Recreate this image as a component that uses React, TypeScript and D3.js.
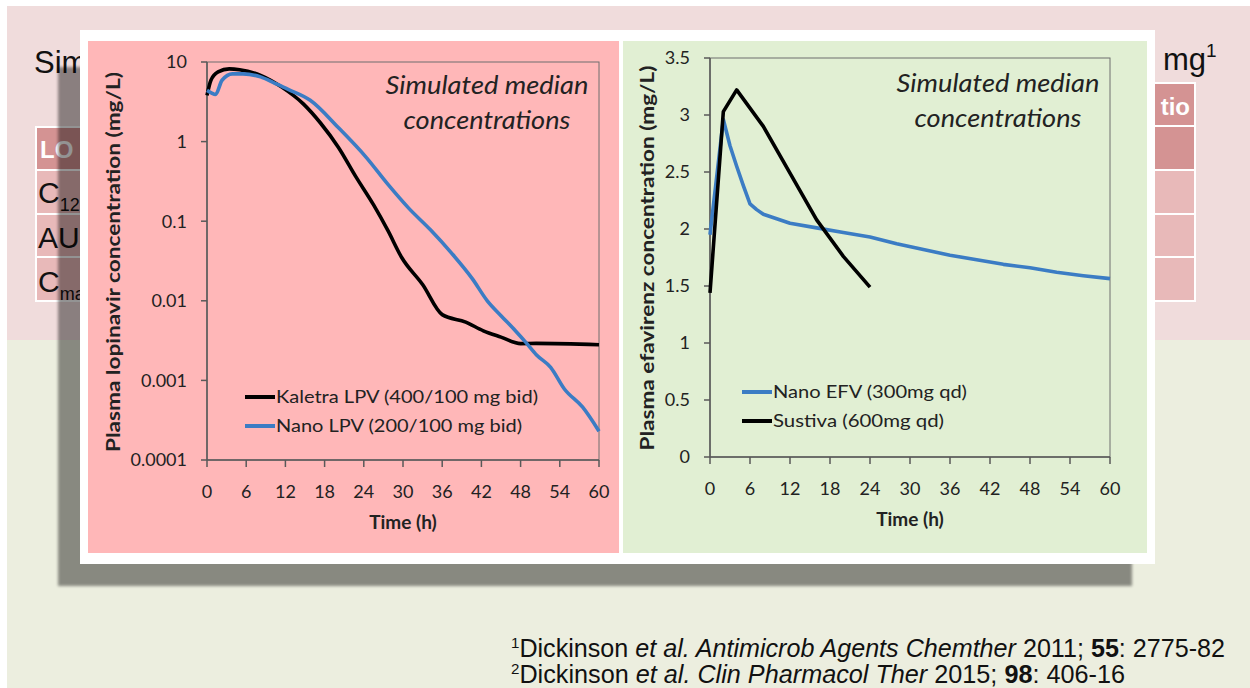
import React from 'react';
import * as d3 from 'd3';

// tick values
const timeTicks = [0, 6, 12, 18, 24, 30, 36, 42, 48, 54, 60];
const lpvTicks = [10, 1, 0.1, 0.01, 0.001, 0.0001];
const efvTicks = [0, 0.5, 1, 1.5, 2, 2.5, 3, 3.5];

// lopinavir
const kaletraHours = [0, 0.6, 1.7, 3.4, 5, 8.2, 11.5, 14.7, 17.4, 20.1, 22.8, 25.5, 27.7, 29.8, 33, 36, 39.6, 42.3, 45, 48, 50.4, 60];
const kaletraConc = [3.8, 5.9, 7.5, 8.2, 8.0, 6.8, 4.8, 3.0, 1.7, 0.85, 0.36, 0.16, 0.076, 0.035, 0.016, 0.0067, 0.0054, 0.0042, 0.0035, 0.0029, 0.00292, 0.0028];
const nanoLpvHours = [0, 0.65, 1.3, 2.3, 3.9, 5.5, 8.2, 10.4, 12.5, 15.8, 20.1, 24.4, 27.7, 30.9, 34.2, 37.4, 40.6, 42.9, 45, 47.2, 48.8, 50.4, 52.6, 54.7, 57.5, 60];
const nanoLpvConc = [4.4, 4.1, 3.9, 5.9, 7.1, 7.1, 6.5, 5.4, 4.5, 3.3, 1.5, 0.63, 0.29, 0.145, 0.078, 0.04, 0.019, 0.01, 0.0065, 0.0042, 0.003, 0.0021, 0.00146, 0.00078, 0.00046, 0.00023];

// efavirenz
const nanoEfvHours = [0, 2, 3, 4, 5, 6, 7, 8, 10, 12, 16, 20, 24, 28, 32, 36, 40, 44, 48, 52, 56, 60];
const nanoEfvConc = [1.95, 2.96, 2.73, 2.55, 2.38, 2.22, 2.17, 2.13, 2.09, 2.05, 2.01, 1.97, 1.93, 1.87, 1.82, 1.77, 1.73, 1.69, 1.66, 1.62, 1.59, 1.565];
const sustivaHours = [0, 2, 4, 8, 12, 16, 20, 24];
const sustivaConc = [1.44, 3.03, 3.22, 2.9, 2.49, 2.08, 1.76, 1.49];

const BLUE = '#3b7cc4';
const AXIS = '#595959';
const FONT = 'Lato, "Open Sans", sans-serif';

type Series = { name: string; hours: number[]; conc: number[]; color: string };

const Chart = ({ x, y, curve, yTicks, series, legend, legendX, legendY, yLabel, yLabelX, yLabelY, yLabelLen, noteX, noteY }: any) => {
    const [x0, x1] = x.range();
    const [yb, yt] = y.range();
    const line = (s: Series) =>
        d3.line<number>()
            .x((_, i) => x(s.hours[i]))
            .y((v) => y(v))
            .curve(curve)(s.conc) as string;

    return (
        <g fontFamily={FONT} fill="#222">
            {/* frame */}
            <rect x={x0} y={yt} width={x1 - x0} height={yb - yt} fill="none" stroke="#6f6f6f" strokeWidth={1} />
            <line x1={x0} x2={x0} y1={yt} y2={yb} stroke={AXIS} strokeWidth={1.5} />
            <line x1={x0} x2={x1} y1={yb} y2={yb} stroke={AXIS} strokeWidth={1.5} />
            {yTicks.map((t: number) => (
                <g key={'y' + t}>
                    <line x1={x0 - 6} x2={x0} y1={y(t)} y2={y(t)} stroke={AXIS} strokeWidth={1.5} />
                    <text x={x0 - 20} y={y(t)} dy="0.35em" textAnchor="end" fontSize={18}>{String(t)}</text>
                </g>
            ))}
            {timeTicks.map((t) => (
                <g key={'x' + t}>
                    <line x1={x(t)} x2={x(t)} y1={yb} y2={yb + 7} stroke={AXIS} strokeWidth={1.5} />
                    <text x={x(t)} y={yb + 38} textAnchor="middle" fontSize={18}>{t}</text>
                </g>
            ))}
            <text x={(x0 + x1) / 2} y={yb + 69} textAnchor="middle" fontSize={19} fontWeight="bold">Time (h)</text>
            <text transform={`translate(${yLabelX},${yLabelY}) rotate(-90)`} textAnchor="middle" fontSize={19} fontWeight="bold"
                textLength={yLabelLen} lengthAdjust="spacingAndGlyphs">{yLabel}</text>

            {series.map((s: Series) => (
                <path key={s.name} d={line(s)} fill="none" stroke={s.color} strokeWidth={3.6} strokeLinejoin="round" />
            ))}

            {legend.map((s: Series & { w: number }, i: number) => (
                <g key={'lg' + s.name} transform={`translate(${legendX},${legendY + i * 29})`}>
                    <line x1={0} x2={30} y1={0} y2={0} stroke={s.color} strokeWidth={4} />
                    <text x={31} y={0} dy="0.35em" fontSize={18} textLength={s.w} lengthAdjust="spacingAndGlyphs">{s.name}</text>
                </g>
            ))}

            <text x={noteX} y={noteY} textAnchor="middle" fontSize={25} fontStyle="italic" textLength={203} lengthAdjust="spacingAndGlyphs">Simulated median</text>
            <text x={noteX} y={noteY + 35} textAnchor="middle" fontSize={25} fontStyle="italic" textLength={167} lengthAdjust="spacingAndGlyphs">concentrations</text>
        </g>
    );
};

const App = () => {
    const xL = d3.scaleLinear().domain([0, 60]).range([207, 599]);
    const yL = d3.scaleLog().domain([0.0001, 10]).range([460, 62]);
    const xR = d3.scaleLinear().domain([0, 60]).range([710, 1110]);
    const yR = d3.scaleLinear().domain([0, 3.5]).range([457, 58]);

    const kaletra = { name: 'Kaletra LPV (400/100 mg bid)', hours: kaletraHours, conc: kaletraConc, color: '#000', w: 262 };
    const nanoLpv = { name: 'Nano LPV (200/100 mg bid)', hours: nanoLpvHours, conc: nanoLpvConc, color: BLUE, w: 246 };
    const nanoEfv = { name: 'Nano EFV (300mg qd)', hours: nanoEfvHours, conc: nanoEfvConc, color: BLUE, w: 194 };
    const sustiva = { name: 'Sustiva (600mg qd)', hours: sustivaHours, conc: sustivaConc, color: '#000', w: 171 };

    const sans = '"Liberation Sans", Arial, sans-serif';
    const narrow = '"Liberation Sans Narrow", "Liberation Sans", Arial, sans-serif';
    const tblDark = '#d49393';
    const tblLight = '#e8b9b9';

    return (
        <svg width={1250} height={688} style={{ position: 'absolute', left: 0, top: 0 }}>
            <defs>
                <filter id="blur" x="-5%" y="-5%" width="110%" height="110%">
                    <feGaussianBlur stdDeviation={1.5} />
                </filter>
            </defs>
            <rect x={0} y={0} width={1250} height={688} fill="#fff" />
            <rect x={7} y={6} width={1243} height={334} fill="#f0dcdc" />
            <rect x={7} y={340} width={1243} height={348} fill="#eceedf" />

            {/* slide text behind the figure (only the visible parts) */}
            <text x={34} y={73} fontFamily={sans} fontSize={31} fill="#111">Sim</text>
            <text x={1163} y={70} fontFamily={sans} fontSize={31} fill="#111">mg<tspan fontSize={19} dy={-13}>1</tspan></text>

            <g stroke="#fff" strokeWidth={2}>
                <rect x={36} y={127} width={60} height={43} fill={tblDark} />
                <rect x={36} y={170} width={60} height={44} fill={tblLight} />
                <rect x={36} y={214} width={60} height={43} fill={tblLight} />
                <rect x={36} y={257} width={60} height={44} fill={tblLight} />
                <rect x={1140} y={83} width={55} height={43} fill={tblDark} />
                <rect x={1140} y={126} width={55} height={44} fill={tblDark} />
                <rect x={1140} y={170} width={55} height={44} fill={tblLight} />
                <rect x={1140} y={214} width={55} height={43} fill={tblLight} />
                <rect x={1140} y={257} width={55} height={44} fill={tblLight} />
            </g>
            <g fontFamily={sans} fill="#111">
                <text x={40} y={158} fontSize={24} fontWeight="bold" fill="#fff">LO</text>
                <text x={38} y={203} fontSize={30}>C<tspan fontSize={18} dy={8}>12</tspan></text>
                <text x={38} y={248} fontSize={30}>AU</text>
                <text x={38} y={292} fontSize={30}>C<tspan fontSize={18} dy={8}>ma</tspan></text>
                <text x={1190} y={115} fontSize={24} fontWeight="bold" fill="#fff" textAnchor="end">tio</text>
            </g>

            {/* shadow, white frame, panels */}
            <rect x={58} y={67} width={1074} height={519} fill="#000" opacity={0.42} filter="url(#blur)" />
            <rect x={80} y={30} width={1075} height={534} fill="#fff" />
            <rect x={88} y={41} width={531} height={512} fill="#ffb7b8" />
            <rect x={623} y={41} width={524} height={512} fill="#e1efd3" />

            <Chart x={xL} y={yL} curve={d3.curveMonotoneX} yTicks={lpvTicks} series={[kaletra, nanoLpv]} legend={[kaletra, nanoLpv]}
                legendX={245} legendY={397} yLabel="Plasma lopinavir concentration (mg/L)"
                yLabelX={120} yLabelY={262} yLabelLen={380} noteX={487} noteY={94} />
            <Chart x={xR} y={yR} curve={d3.curveLinear} yTicks={efvTicks} series={[nanoEfv, sustiva]} legend={[nanoEfv, sustiva]}
                legendX={742} legendY={392} yLabel="Plasma efavirenz concentration (mg/L)"
                yLabelX={654} yLabelY={258} yLabelLen={385} noteX={998} noteY={92} />

            {/* references */}
            <g fontFamily={narrow} fill="#111" fontSize={25}>
                <text x={511} y={657} textLength={714} lengthAdjust="spacingAndGlyphs">
                    <tspan fontSize={15} dy={-9}>1</tspan><tspan dy={9}>Dickinson </tspan><tspan fontStyle="italic">et al.  Antimicrob Agents Chemther</tspan>{' 2011; '}<tspan fontWeight="bold">55</tspan>{': 2775-82'}
                </text>
                <text x={511} y={683} textLength={614} lengthAdjust="spacingAndGlyphs">
                    <tspan fontSize={15} dy={-9}>2</tspan><tspan dy={9}>Dickinson </tspan><tspan fontStyle="italic">et al.  Clin Pharmacol Ther</tspan>{' 2015; '}<tspan fontWeight="bold">98</tspan>{': 406-16'}
                </text>
            </g>
        </svg>
    );
};

export default App;
